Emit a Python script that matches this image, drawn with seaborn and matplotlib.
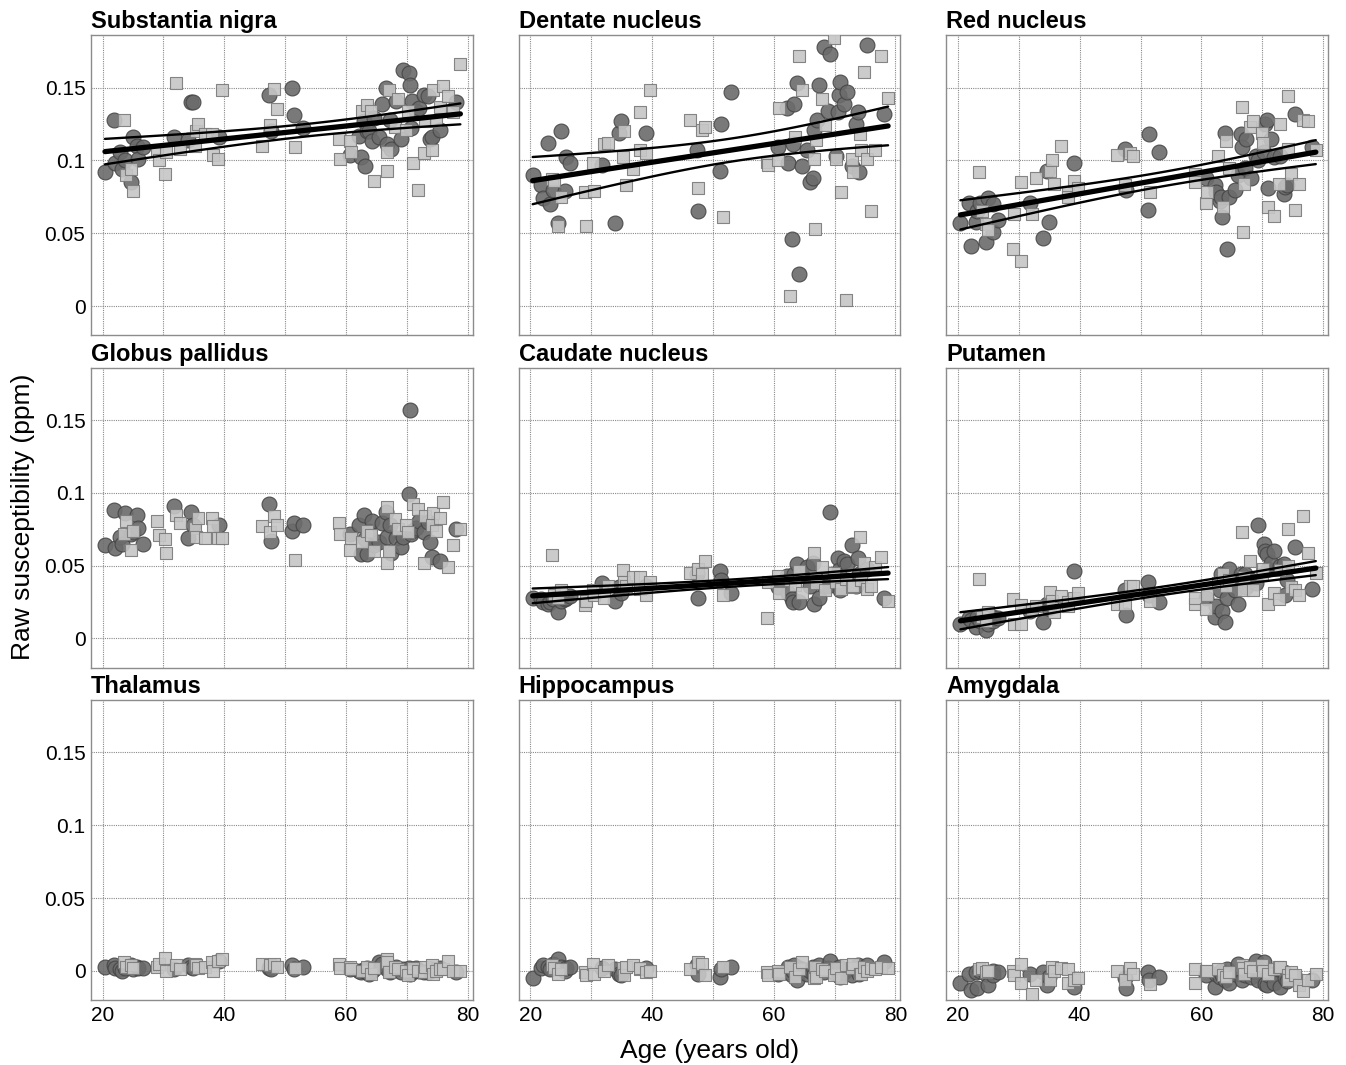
import numpy as np
import pandas as pd
import matplotlib
matplotlib.use("Agg")
import matplotlib.pyplot as plt
import seaborn as sns

# ages shared by all regions (circles = one group, squares = the other)
CIRCLE_AGE = [20.4, 21.8, 22.1, 22.9, 23.2, 23.7, 24.6, 25.0, 25.7, 25.8, 26.6,
              31.8, 34.0, 34.6, 34.9, 39.1,
              47.4, 47.6, 51.2, 51.4, 53.0,
              60.7, 62.2, 62.4, 63.0, 63.2, 63.4, 63.8, 64.2, 64.6, 65.5,
              66.0, 66.5, 66.7, 67.2, 67.4, 68.2, 69.0, 69.3, 70.3, 70.5,
              70.7, 70.9, 71.5, 72.0, 72.9, 73.5, 73.8, 74.1, 75.4, 78.1]
SQUARE_AGE = [23.5, 23.9, 24.6, 25.0,
              29.0, 29.2, 30.3, 30.4, 32.1, 32.8, 35.2, 35.4, 35.7, 36.9, 38.0, 38.1, 39.0, 39.7,
              46.2, 47.5, 48.2, 48.7, 51.6,
              58.9, 59.0, 60.7, 60.9, 62.7, 63.5, 64.1, 64.6, 66.7, 66.8, 67.0, 68.0, 68.5,
              69.9, 70.2, 71.0, 71.9, 72.8, 73.0, 74.2, 74.3, 74.8, 75.4, 76.0, 76.7, 77.6, 78.8]

REGIONS = ["Substantia nigra", "Dentate nucleus", "Red nucleus",
           "Globus pallidus", "Caudate nucleus", "Putamen",
           "Thalamus", "Hippocampus", "Amygdala"]
HAS_FIT = [True, True, True, False, True, True, False, False, False]

SN_CIRCLE = [.092, .128, .098, .106, .094, .100, .085, .116, .110, .101, .109,
             .116, .114, .140, .140, .116,
             .145, .120, .150, .131, .122,
             .104, .117, .102, .127, .096, .120, .120, .113, .129, .116, .139, .150, .111, .128, .108,
             .141, .115, .162, .160, .152, .122, .141, .134, .136, .145, .144, .115, .116, .121, .140]
SN_SQUARE = [.128, .090, .094, .079,
             .107, .100, .091, .106, .153, .108, .110, .120, .125, .118, .118, .104, .101, .148,
             .110, .124, .149, .135, .109,
             .115, .101, .113, .106, .134, .138, .134, .086, .093, .106, .148, .123, .142, .121,
             .134, .098, .080, .105, .127, .107, .148, .127, .137, .151, .144, .133, .166]

DN_CIRCLE = [.090, .083, .074, .112, .070, .080, .057, .120, .079, .102, .098,
             .097, .057, .119, .127, .119,
             .107, .065, .093, .125, .147,
             .109, .136, .098, .046, .111, .139, .153, .022, .096, .107, .085, .088, .121, .128, .152,
             .178, .134, .173, .103, .133, .145, .154, .139, .147, .096, .125, .133, .092, .179, .132]
DN_SQUARE = [.087, .086, .055, .075,
             .078, .055, .098, .079, .111, .112, .102, .120, .083, .094, .133, .107, .105, .148,
             .128, .081, .121, .123, .061,
             .099, .097, .100, .136, .007, .116, .172, .148, .101, .053, .114, .142, .124, .184,
             .101, .078, .004, .101, .092, .118, .107, .161, .101, .065, .107, .172, .143]

RN_CIRCLE = [.057, .071, .041, .058, .065, .071, .044, .074, .070, .051, .059,
             .071, .047, .093, .058, .098,
             .108, .080, .066, .118, .106,
             .088, .083, .078, .072, .075, .061, .119, .039, .075, .080, .090, .118, .109, .095, .115,
             .088, .103, .100, .106, .125, .128, .081, .115, .102, .103, .077, .082, .083, .132, .109]
RN_SQUARE = [.092, .065, .056, .052,
             .039, .063, .031, .085, .063, .088, .093, .100, .084, .110, .078, .075, .086, .081,
             .104, .083, .105, .103, .078,
             .091, .085, .071, .078, .103, .068, .113, .095, .137, .051, .084, .123, .127, .119,
             .112, .068, .062, .084, .125, .144, .108, .091, .066, .084, .128, .127, .107]

GP_CIRCLE = [.064, .088, .062, .070, .065, .086, .072, .073, .085, .076, .065,
             .091, .069, .087, .078, .078,
             .092, .067, .074, .079, .078,
             .072, .078, .058, .085, .068, .058, .074, .081, .064, .066, .079, .087, .070, .078, .059,
             .069, .063, .070, .099, .157, .072, .074, .076, .081, .073, .080, .066, .056, .053, .075]
GP_SQUARE = [.072, .081, .061, .074,
             .081, .071, .068, .059, .085, .079, .076, .070, .083, .069, .083, .077, .069, .069,
             .077, .073, .084, .078, .054,
             .079, .072, .061, .069, .066, .074, .071, .060, .090, .052, .060, .082, .075, .078,
             .073, .092, .089, .052, .084, .078, .086, .074, .083, .094, .049, .064, .075]

CN_CIRCLE = [.028, .027, .025, .024, .025, .027, .018, .026, .027, .028, .029,
             .038, .026, .035, .031, .036,
             .044, .028, .046, .040, .031,
             .035, .043, .031, .027, .025, .044, .051, .025, .044, .049, .036, .052, .024, .040, .028,
             .036, .036, .087, .042, .055, .047, .033, .053, .051, .064, .036, .055, .044, .048, .028]
CN_SQUARE = [.057, .030, .028, .033,
             .023, .026, .033, .030, .028, .036, .047, .039, .036, .042, .042, .034, .030, .039,
             .045, .048, .044, .053, .030,
             .014, .039, .043, .031, .040, .037, .046, .031, .059, .042, .038, .049, .033, .045,
             .039, .034, .041, .035, .036, .070, .040, .052, .034, .036, .049, .056, .026]

PUT_CIRCLE = [.010, .014, .013, .008, .015, .012, .006, .010, .015, .012, .014,
              .019, .011, .024, .021, .046,
              .033, .016, .039, .030, .025,
              .028, .015, .022, .033, .044, .019, .011, .028, .048, .033, .024, .044, .040, .044, .035,
              .040, .038, .078, .065, .060, .058, .048, .052, .060, .050, .051, .030, .040, .063, .034]
PUT_SQUARE = [.041, .015, .012, .018,
              .027, .010, .010, .023, .020, .022, .032, .026, .018, .029, .025, .022, .028, .031,
              .024, .024, .036, .036, .026,
              .024, .028, .020, .030, .038, .044, .036, .040, .073, .033, .042, .053, .033, .044,
              .048, .024, .031, .027, .047, .075, .050, .035, .033, .030, .084, .059, .045]

TH_CIRCLE = [.003, .004, .002, .001, .000, .002, .004, .001, .003, .002, .002,
             .001, .004, .003, .002, .007,
             .002, .001, .004, .001, .003,
             .001, .000, -.001, .000, .001, .002, -.002, .000, .001, .006, .005, .003, .001, -.001, .000,
             .003, -.001, .001, .002, -.002, -.001, .000, .002, .000, -.001, -.001, .000, .001, .002, -.001]
TH_SQUARE = [.006, .003, .004, .002,
             .003, .005, .009, .000, .004, .001, .005, .004, .002, .003, .006, .000, .007, .008,
             .005, .004, .005, .003, .002,
             .005, .002, .003, .001, .000, .003, -.002, .002, .008, .006, -.001, .003, .001, .000,
             -.003, .002, .000, -.001, .003, .004, -.002, .000, .001, .001, .007, .000, .000]

HC_CIRCLE = [-.005, .002, .004, .003, .001, .005, .008, .003, .000, .002, .003,
             .002, .001, -.002, -.003, .002,
             .004, -.002, -.004, .001, .003,
             -.002, -.001, .003, -.003, .000, .004, -.006, .002, .001, -.002, .000, .003, -.003, .002, .004,
             -.001, .002, .007, -.002, .000, .003, -.004, -.001, .001, -.003, .002, .004, -.002, .004, .006]
HC_SQUARE = [.004, .002, -.002, .001,
             -.001, -.003, .005, -.002, .000, .004, .002, -.003, .003, .004, .001, .002, -.001, .000,
             .001, .006, .005, -.003, .003,
             -.001, -.003, .000, -.002, .003, -.004, .001, .006, -.005, .003, -.004, .001, .000, -.003,
             .002, -.005, .004, .002, .005, -.002, -.002, .003, .000, .002, .001, .003, .002]

AM_CIRCLE = [-.008, -.002, -.013, -.001, -.012, .000, -.002, -.010, .000, -.003, -.001,
             -.002, -.001, -.010, -.004, -.011,
             -.005, -.012, -.001, -.006, -.004,
             -.003, -.011, -.002, -.004, .000, -.003, -.006, .001, -.008, -.002, .005, -.002, -.006, -.003,
             .000, -.004, .007, -.006, .006, -.009, -.010, -.003, -.002, -.008, -.011, -.001, -.005, -.007,
             -.004, -.006]
AM_SQUARE = [.001, .002, -.001, .000,
             .000, -.003, .005, -.008, -.016, -.006, -.006, .003, .000, .002, .001, -.008, -.006, -.005,
             .000, -.006, .002, -.002, -.009,
             .001, -.008, .000, .000, .001, -.003, -.004, -.001, .004, .002, -.002, .003, .000, .004,
             .000, -.002, .001, .003, .003, -.003, -.006, -.001, -.003, -.010, -.014, -.006, -.002]

CIRCLES = [SN_CIRCLE, DN_CIRCLE, RN_CIRCLE, GP_CIRCLE, CN_CIRCLE, PUT_CIRCLE, TH_CIRCLE, HC_CIRCLE, AM_CIRCLE]
SQUARES = [SN_SQUARE, DN_SQUARE, RN_SQUARE, GP_SQUARE, CN_SQUARE, PUT_SQUARE, TH_SQUARE, HC_SQUARE, AM_SQUARE]

Z_BAND = 2.4

sns.set_style("white")
plt.rcParams["font.family"] = ["Liberation Sans", "DejaVu Sans"]
plt.rcParams["text.color"] = "black"
plt.rcParams["xtick.color"] = "black"
plt.rcParams["ytick.color"] = "black"

fig, axes = plt.subplots(3, 3, figsize=(13.46, 10.65), dpi=100, sharex=True, sharey=True)
fig.subplots_adjust(left=0.0676, right=0.9866, bottom=0.061, top=0.967, wspace=0.121, hspace=0.108)

for i, ax in enumerate(axes.flat):
    circ = pd.DataFrame({"age": CIRCLE_AGE, "value": CIRCLES[i]})
    sq = pd.DataFrame({"age": SQUARE_AGE, "value": SQUARES[i]})

    sns.scatterplot(data=circ, x="age", y="value", marker="o", s=115, color="#6b6b6b",
                    edgecolor="#454545", linewidth=0.8, alpha=0.9, ax=ax, zorder=3)
    sns.scatterplot(data=sq, x="age", y="value", marker="s", s=85, color="#c6c6c6",
                    edgecolor="#7a7a7a", linewidth=0.8, alpha=0.9, ax=ax, zorder=3)

    if HAS_FIT[i]:
        both = pd.concat([circ, sq], ignore_index=True)
        sns.regplot(data=both, x="age", y="value", scatter=False, ci=None, ax=ax,
                    line_kws={"color": "black", "lw": 3.8, "zorder": 4})
        x = both["age"].to_numpy()
        y = both["value"].to_numpy()
        slope, icpt = np.polyfit(x, y, 1)
        resid = y - (slope * x + icpt)
        n = len(x)
        s = np.sqrt((resid ** 2).sum() / (n - 2))
        xs = np.linspace(x.min(), x.max(), 100)
        se = s * np.sqrt(1 / n + (xs - x.mean()) ** 2 / ((x - x.mean()) ** 2).sum())
        fit = slope * xs + icpt
        ax.plot(xs, fit + Z_BAND * se, color="black", lw=1.7, zorder=4)
        ax.plot(xs, fit - Z_BAND * se, color="black", lw=1.7, zorder=4)

    ax.set_xlim(18.1, 80.8)
    ax.set_ylim(-0.02, 0.186)
    ax.set_xticks(range(20, 81, 10))
    ax.set_xticklabels(["20", "", "40", "", "60", "", "80"])
    ax.set_yticks([0, 0.05, 0.1, 0.15])
    ax.set_yticklabels(["0", "0.05", "0.1", "0.15"])
    ax.grid(True, linestyle=(0, (1, 1)), color="#8a8a8a", lw=0.8)
    ax.set_axisbelow(True)
    ax.tick_params(labelsize=15, length=3, direction="in", color="#777777", pad=4)
    for sp in ax.spines.values():
        sp.set_color("#8c8c8c")
        sp.set_linewidth(1.0)
    ax.set_xlabel("")
    ax.set_ylabel("")
    ax.set_title(REGIONS[i], loc="left", fontsize=17, fontweight="bold", pad=5, color="black")

fig.text(0.017, 0.515, "Raw susceptibility (ppm)", rotation=90, ha="center", va="center", fontsize=19)
fig.text(0.527, 0.002, "Age (years old)", ha="center", va="bottom", fontsize=19)

fig.savefig("out.png", dpi=100)
